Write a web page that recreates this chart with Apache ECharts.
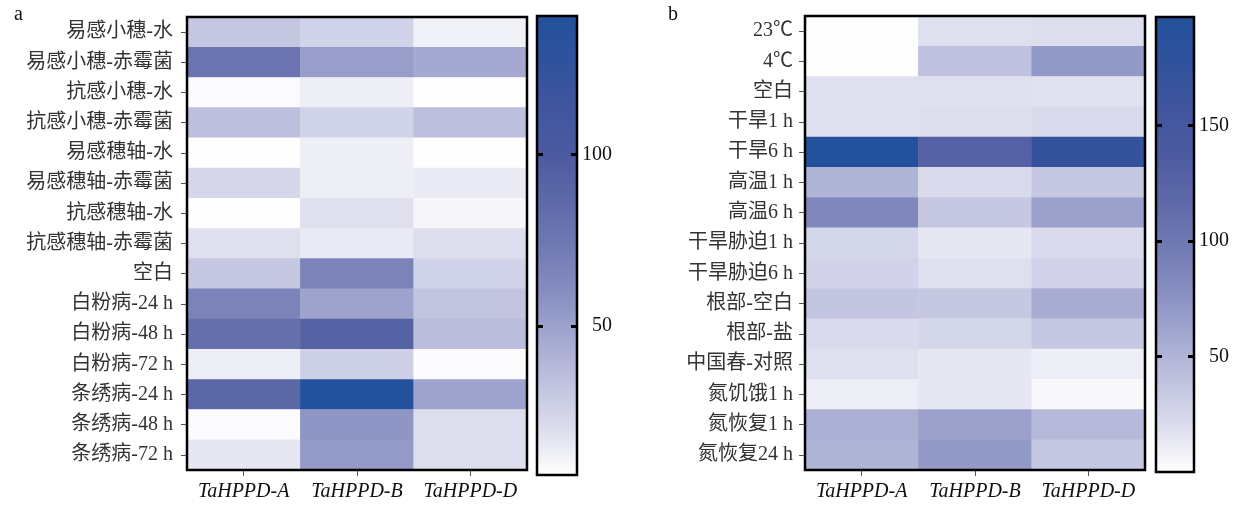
<!DOCTYPE html>
<html>
<head>
<meta charset="utf-8">
<script src="https://cdn.jsdelivr.net/npm/echarts@6/dist/echarts.min.js"></script>
<style>
html,body{margin:0;padding:0;background:#fff;}
#chart{width:1240px;height:507px;}
</style>
</head>
<body>
<div id="chart"></div>
<script>
// ---------- data ----------
const genes = ['TaHPPD-A', 'TaHPPD-B', 'TaHPPD-D'];

const rowsA = ['易感小穗-水', '易感小穗-赤霉菌', '抗感小穗-水', '抗感小穗-赤霉菌', '易感穗轴-水', '易感穗轴-赤霉菌', '抗感穗轴-水', '抗感穗轴-赤霉菌', '空白', '白粉病-24 h', '白粉病-48 h', '白粉病-72 h', '条绣病-24 h', '条绣病-48 h', '条绣病-72 h'];
const panelA_A = [31, 77, 8, 35, 7, 23, 7, 19, 31, 67, 81, 13, 88, 8, 16];
const panelA_B = [25, 52, 13, 25, 13, 13, 19, 15, 67, 49, 93, 27, 140, 56, 53];
const panelA_D = [12, 46, 7, 35, 7, 15, 10, 20, 25, 32, 36, 8, 49, 20, 20];

const rowsB = ['23℃', '4℃', '空白', '干旱1 h', '干旱6 h', '高温1 h', '高温6 h', '干旱胁迫1 h', '干旱胁迫6 h', '根部-空白', '根部-盐', '中国春-对照', '氮饥饿1 h', '氮恢复1 h', '氮恢复24 h'];
const panelB_A = [0.5, 0.5, 18, 18, 197, 50, 85, 25, 27, 37, 22, 18, 10, 54, 50];
const panelB_B = [18, 40, 18, 20, 128, 22, 35, 14, 18, 35, 25, 14, 14, 64, 69];
const panelB_D = [20, 69, 17, 22, 171, 35, 64, 22, 27, 56, 35, 10, 4, 46, 35];

const rangeA = [6.6, 140.3];
const rangeB = [0, 197];
const ticksA = [50, 100];
const ticksB = [50, 100, 150];

// ---------- build ----------
function cells(cols) {
  const out = [];
  cols.forEach((arr, xi) => arr.forEach((v, yi) => out.push([xi, yi, v])));
  return out;
}
const dataA = cells([panelA_A, panelA_B, panelA_D]);
const dataB = cells([panelB_A, panelB_B, panelB_D]);

const FONT = '"Liberation Serif", "Noto Sans CJK SC", serif';
const FS = 20;
const palette = ['#ffffff', '#dcdded', '#c0c2df', '#a3a8d0', '#868dc0', '#7079b2', '#5d68a8', '#4c5aa0', '#40559e', '#30529c', '#24519b'];

function heatX(gi) {
  return {
    type: 'category', gridIndex: gi, data: genes,
    axisLine: {show: false},
    axisTick: {show: true, alignWithLabel: true, length: 6, lineStyle: {color: '#555', width: 1}},
    axisLabel: {interval: 0, fontFamily: FONT, fontStyle: 'italic', fontSize: FS, color: '#111', margin: 12},
    splitLine: {show: false}
  };
}
function heatY(gi, rows, margin) {
  return {
    type: 'category', gridIndex: gi, data: rows, inverse: true,
    axisLine: {show: false},
    axisTick: {show: true, alignWithLabel: true, length: 6, lineStyle: {color: '#555', width: 1}},
    axisLabel: {interval: 0, fontFamily: FONT, fontSize: FS, color: '#333', margin: margin},
    splitLine: {show: false}
  };
}
// colour-bar tick axes (left-positioned, shifted inward so the ticks sit inside the bar)
const TICK = 6;
function cbarTicks(gi, range, ticks, offset) {
  return {
    type: 'value', gridIndex: gi, min: range[0], max: range[1], position: 'left',
    offset: offset, zlevel: 1,
    axisLine: {show: false},
    splitLine: {show: false},
    axisTick: {show: true, inside: false, length: TICK, customValues: ticks, lineStyle: {color: '#000', width: 3}},
    axisLabel: {show: false}
  };
}
function cbarLabels(gi, range, ticks) {
  return {
    type: 'value', gridIndex: gi, min: range[0], max: range[1], position: 'right',
    axisLine: {show: false},
    splitLine: {show: false},
    axisTick: {show: false},
    axisLabel: {show: true, customValues: ticks, fontFamily: FONT, fontSize: FS, color: '#111', align: 'right', margin: 35}
  };
}
function cbarX(gi) {
  return {type: 'value', gridIndex: gi, show: false, min: 0, max: 1};
}

const gridStyle = {show: true, borderColor: '#000', borderWidth: 2.5, backgroundColor: 'transparent', z: 10};
const cbA = {left: 537, top: 16, width: 40, height: 459};
const cbB = {left: 1156, top: 17, width: 38, height: 455};

const option = {
  backgroundColor: '#fff',
  animation: false,
  title: [
    {text: 'a', left: 9, top: 0, textStyle: {fontFamily: FONT, fontSize: FS, fontWeight: 'normal', color: '#111'}},
    {text: 'b', left: 663, top: 0, textStyle: {fontFamily: FONT, fontSize: FS, fontWeight: 'normal', color: '#111'}}
  ],
  grid: [
    Object.assign({left: 187, top: 17, width: 340, height: 453}, gridStyle),
    Object.assign({left: 805, top: 16, width: 340, height: 454}, gridStyle),
    Object.assign({}, cbA, gridStyle),
    Object.assign({}, cbA, {show: false}),
    Object.assign({}, cbA, {show: false}),
    Object.assign({}, cbB, gridStyle),
    Object.assign({}, cbB, {show: false}),
    Object.assign({}, cbB, {show: false})
  ],
  xAxis: [heatX(0), heatX(1), cbarX(2), cbarX(3), cbarX(4), cbarX(5), cbarX(6), cbarX(7)],
  yAxis: [
    heatY(0, rowsA, 14), heatY(1, rowsB, 12),
    cbarTicks(2, rangeA, ticksA, -TICK), cbarTicks(3, rangeA, ticksA, -cbA.width), cbarLabels(4, rangeA, ticksA),
    cbarTicks(5, rangeB, ticksB, -TICK), cbarTicks(6, rangeB, ticksB, -cbB.width), cbarLabels(7, rangeB, ticksB)
  ],
  visualMap: [
    {type: 'continuous', seriesIndex: 0, min: rangeA[0], max: rangeA[1], calculable: false, realtime: false,
     left: cbA.left, top: cbA.top, itemWidth: cbA.width, itemHeight: cbA.height, padding: 0, text: null, showLabel: false,
     inRange: {color: palette}, hoverLink: false},
    {type: 'continuous', seriesIndex: 1, min: rangeB[0], max: rangeB[1], calculable: false, realtime: false,
     left: cbB.left, top: cbB.top, itemWidth: cbB.width, itemHeight: cbB.height, padding: 0, text: null, showLabel: false,
     inRange: {color: palette}, hoverLink: false}
  ],
  series: [
    {type: 'heatmap', xAxisIndex: 0, yAxisIndex: 0, data: dataA, itemStyle: {borderWidth: 0}},
    {type: 'heatmap', xAxisIndex: 1, yAxisIndex: 1, data: dataB, itemStyle: {borderWidth: 0}}
  ]
};

const chart = echarts.init(document.getElementById('chart'), null, {renderer: 'canvas'});
chart.setOption(option);
</script>
</body>
</html>
